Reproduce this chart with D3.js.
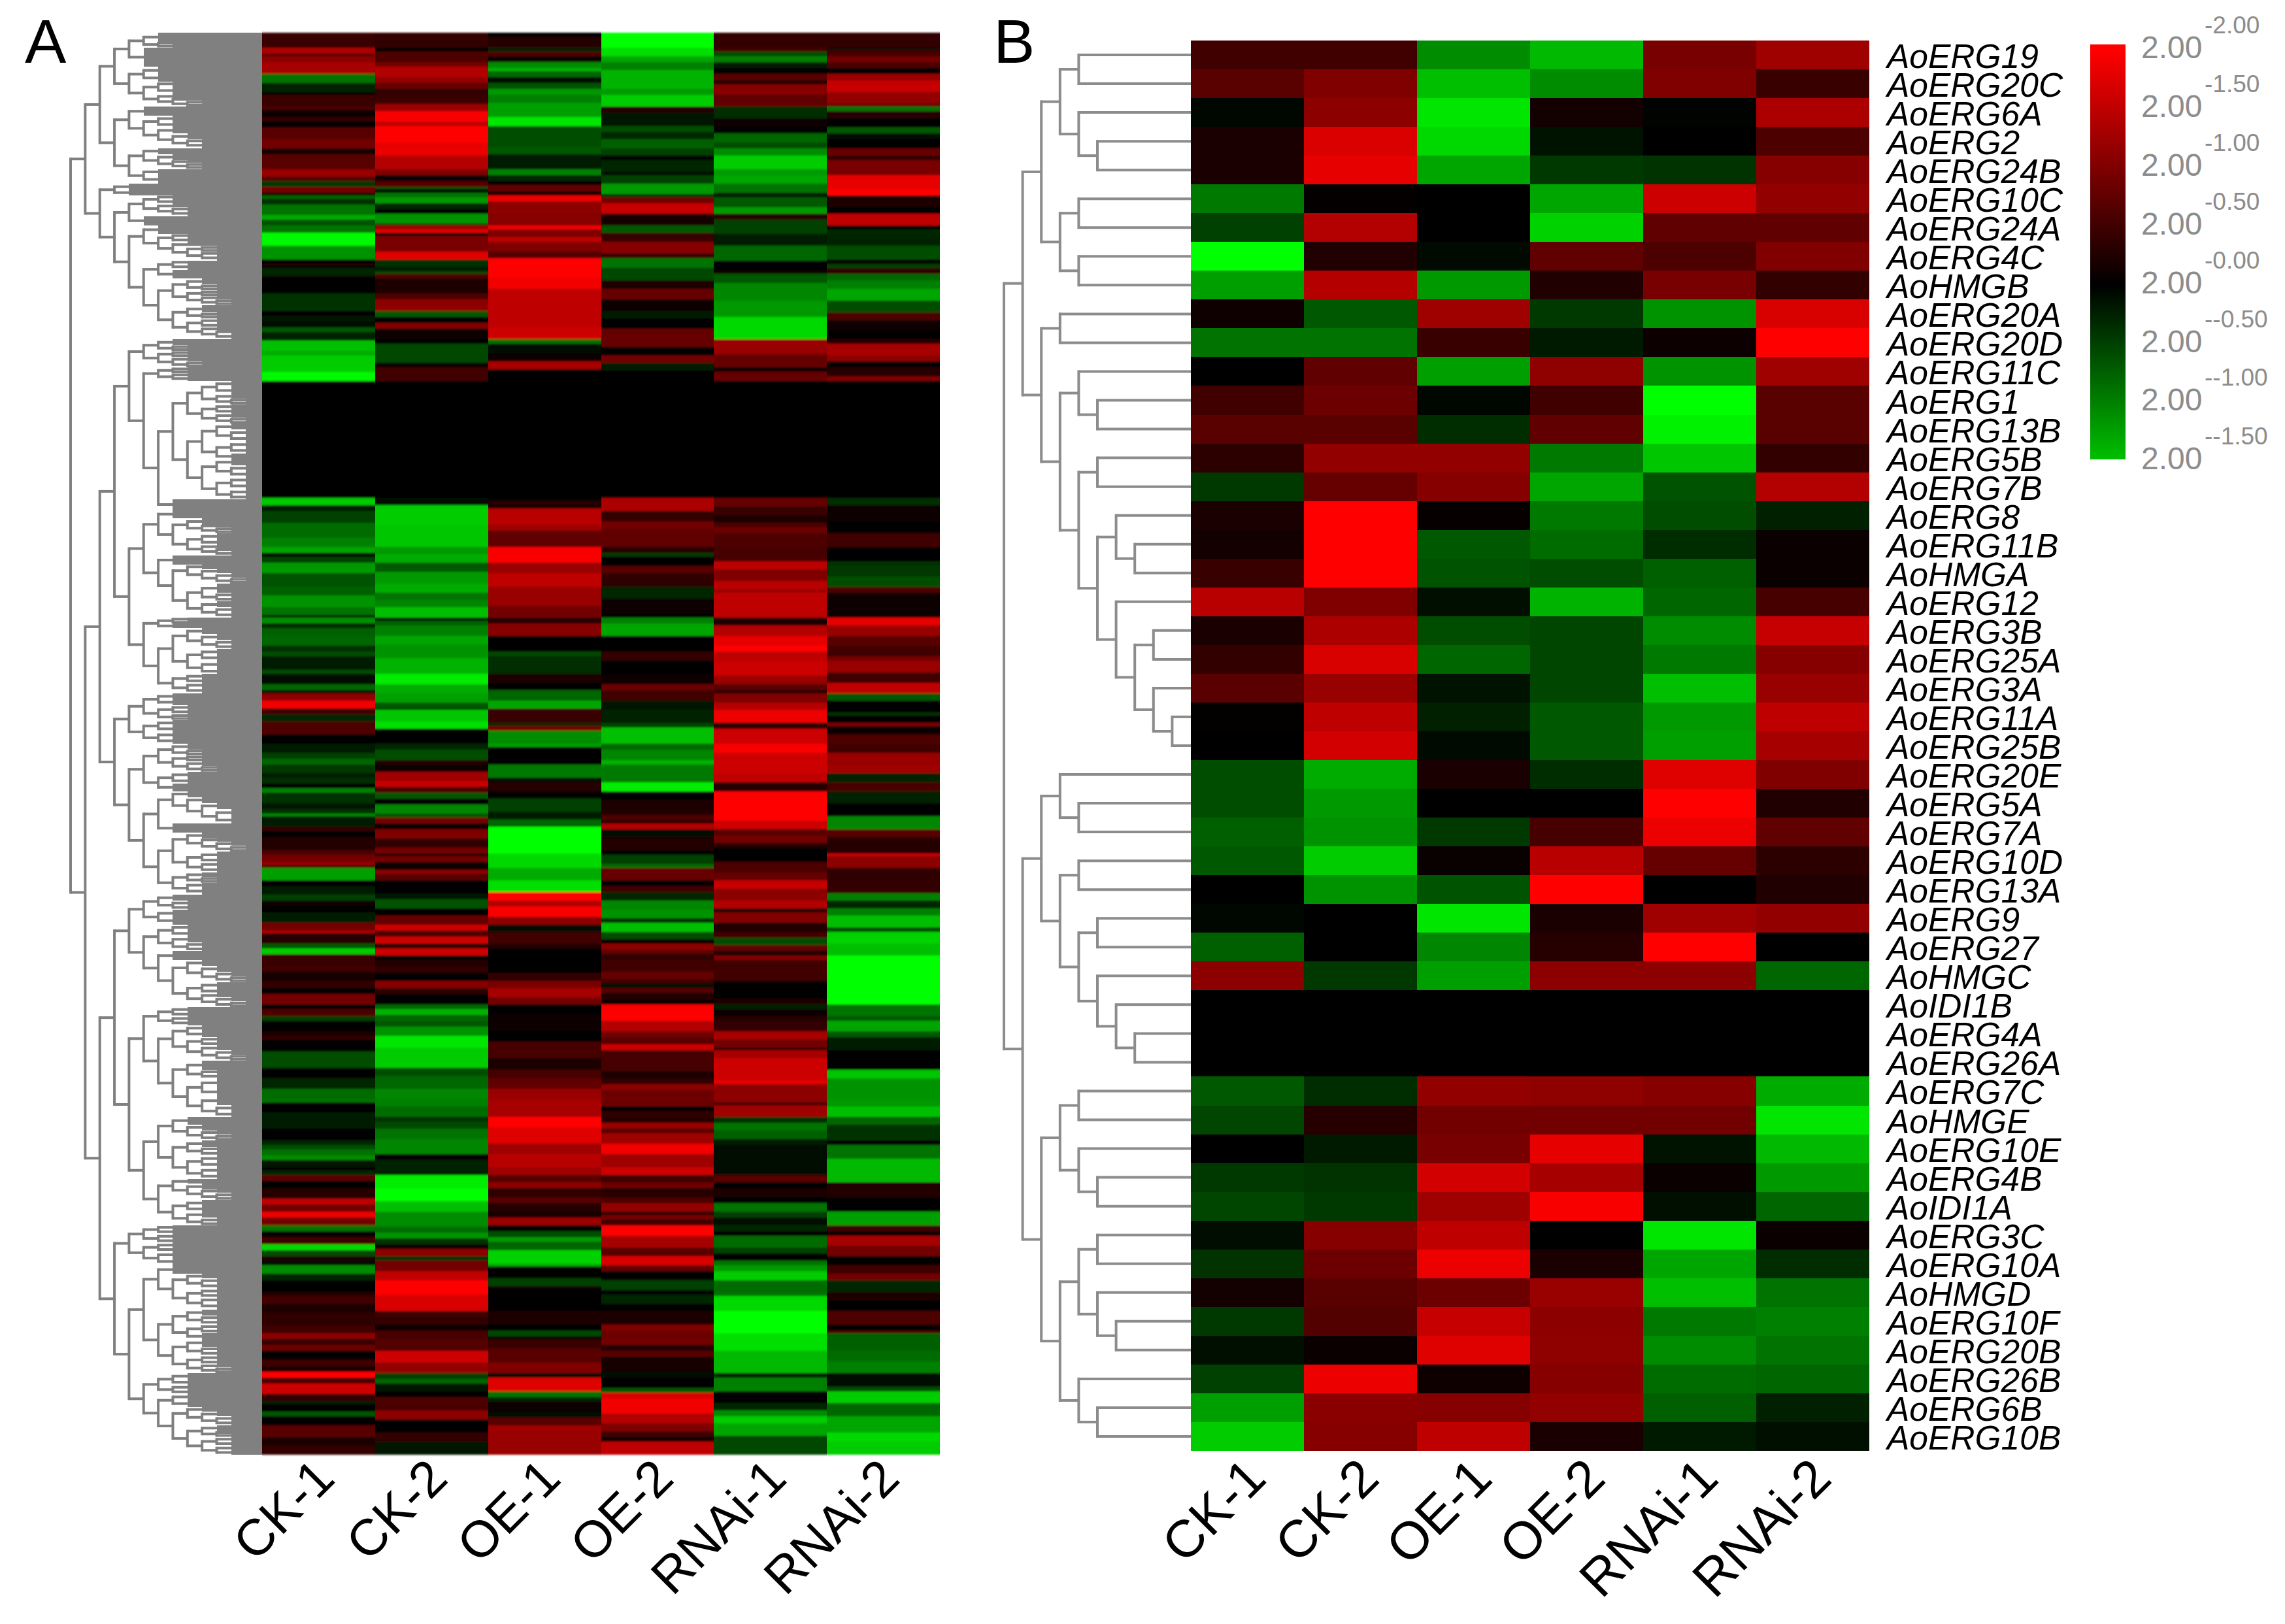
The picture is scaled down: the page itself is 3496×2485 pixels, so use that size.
<!DOCTYPE html>
<html>
<head>
<meta charset="utf-8">
<script src="https://cdn.jsdelivr.net/npm/d3@7"></script>
<style>
  html, body { margin: 0; padding: 0; background: #fff; }
  svg { display: block; font-family: "Liberation Sans", Arial, sans-serif; }
</style>
</head>
<body>
<div id="plot"></div>
<script>
const samples = ["CK-1", "CK-2", "OE-1", "OE-2", "RNAi-1", "RNAi-2"];

const genes = ["AoERG19", "AoERG20C", "AoERG6A", "AoERG2", "AoERG24B", "AoERG10C", "AoERG24A", "AoERG4C", "AoHMGB",
  "AoERG20A", "AoERG20D", "AoERG11C", "AoERG1", "AoERG13B", "AoERG5B", "AoERG7B", "AoERG8", "AoERG11B", "AoHMGA",
  "AoERG12", "AoERG3B", "AoERG25A", "AoERG3A", "AoERG11A", "AoERG25B", "AoERG20E", "AoERG5A", "AoERG7A", "AoERG10D",
  "AoERG13A", "AoERG9", "AoERG27", "AoHMGC", "AoIDI1B", "AoERG4A", "AoERG26A", "AoERG7C", "AoHMGE", "AoERG10E",
  "AoERG4B", "AoIDI1A", "AoERG3C", "AoERG10A", "AoHMGD", "AoERG10F", "AoERG20B", "AoERG26B", "AoERG6B", "AoERG10B"];

// panel B, one row per gene, same order as genes
const valuesB = [
  [.5,.5,-1.1,-1.45,.95,1.25], [.7,1,-1.5,-1.1,1,.45], [-.05,1.1,-1.8,.15,-.02,1.35], [.2,1.72,-1.7,-.15,0,.6],
  [.2,1.8,-1.3,-.45,-.4,1.05], [-.95,.03,0,-1.3,1.6,1.15], [-.5,1.4,0,-1.65,.75,.75], [-2,.25,-.08,.75,.6,1],
  [-1.25,1.42,-1.2,.25,.95,.4], [.12,-.7,1.25,-.45,-1.15,1.7], [-.9,-.9,.45,-.2,.1,2], [0,.75,-1.25,1.12,-1.15,1.25],
  [.5,.85,-.05,.5,-2,.7], [.7,.7,-.35,.75,-1.9,.7], [.35,1.15,1.15,-.95,-1.55,.4], [-.45,.8,1.05,-1.3,-.65,1.4],
  [.2,2,.05,-.95,-.6,-.25], [.15,2,-.7,-.85,-.35,.08], [.45,2,-.65,-.6,-.75,.08], [1.45,1,-.12,-1.4,-.8,.55],
  [.2,1.35,-.6,-.55,-1.1,1.55], [.4,1.7,-.8,-.55,-.95,1.05], [.7,1.2,-.15,-.55,-1.5,1.2], [.02,1.5,-.25,-.7,-1.2,1.5],
  [0,1.65,-.08,-.7,-1.25,1.3], [-.6,-1.35,.2,-.35,1.75,1], [-.6,-1.2,0,0,2,.25], [-.75,-1.15,-.45,.55,1.85,.75],
  [-.7,-1.6,.07,1.45,.8,.35], [0,-1.15,-.65,2,0,.25], [-.05,0,-1.8,.2,1.25,1.15], [-.75,0,-1.05,.3,2,0],
  [1.1,-.45,-1.25,1.1,1.1,-.8], [0,0,0,0,0,0], [0,0,0,0,0,0], [0,0,0,0,0,0],
  [-.7,-.35,1.15,1.12,1.05,-1.35], [-.55,.3,.9,.9,.9,-1.8], [0,-.2,.95,1.8,-.15,-1.45], [-.45,-.4,1.65,1.3,.08,-1.2],
  [-.55,-.45,1.25,1.95,-.12,-.8], [-.1,1.05,1.5,0,-1.8,.08], [-.4,.85,1.85,.2,-1.3,-.35], [.15,.7,.85,1.2,-1.5,-.9],
  [-.45,.65,1.55,1.1,-.95,-1], [-.12,.08,1.75,1.12,-1.1,-.9], [-.5,1.85,.12,1.05,-.85,-.8], [-1.25,1.08,1.05,1.15,-.75,-.25],
  [-1.6,1.05,1.5,.2,-.2,-.12]
];

// panel A has too many genes to list one by one, so each column is a list of [last row, value] runs
const runsCK1 = [[5,.45],[7,1.35],[8,.7],[10,1.1],[14,1.3],[17,-.9],[20,-.25],[21,0],[25,.45],[26,.6],[28.5,.12],[30,.4],[32,0],[36,.7],[39,.9],[41,.15],[46,.7],[48.5,1.2],[50,.7],[52,-.45],[54,.9],[55,.05],[56,-.8],[58,-.4],[61.5,-.9],[63,-1.35],[65,-.65],[67.5,-.9],[72,-1.95],[76.5,-1.15],[78,0],[78.5,.4],[79.5,.05],[82,-.3],[83,.1],[88,.02],[94,-.4],[95.5,0],[97.5,-.15],[99.5,-.1],[101,-.7],[104,-.25],[107.5,-1.5],[109,-1.35],[114.5,-1.6],[117.5,-1.95],[157,0],
  [159.5,-1.6],[161.5,-.2],[165.5,-.5],[170.5,-.85],[173.5,-1],[175.5,-1.3],[177,0],[179,-.5],[182.5,-1.2],[187,-.65],[190,-.75],[194,-1.15],[196.5,-.9],[197.5,-.3],[199.5,-1.1],[201,-.3],[203.5,-.75],[207,-.8],[209,-.35],[210.5,-.6],[215,-.2],[216.5,-.6],[220,-.1],[222,-.8],[223,-.1],[225.5,1.1],[228,1.9],[230,.5],[232.5,-.3],[237,.6],[240,0],
  [243,-.2],[245,-.5],[247,-.8],[250,-.45],[251.5,-.2],[253.5,-.35],[255,0],[256.5,-1],[260,-.4],[262,-.15],[263.5,-.4],[264.5,-1.1],[266,-.2],[268,-.2],[269.5,.4],[271.5,.05],[276,.25],[277.5,.6],[280,.9],[281,1.2],[282,.5],[286,-1.25],[288,.05],[291,-.2],[293,-.5],[295,.1],[297,0],[300.5,-.2],[303,.9],[304,1.4],[307.5,.3],[309,-.7],[311,-1.6],[315,.45],[317,.5],[320,.15],[322.5,.4],[324.5,.05],[328,.9],[329.5,.05],[332,.6],[333.5,-.5],[337,.05],[338.5,.2],[340,.4],[344,-.05],[349.5,-.6],[353,0],[356.5,-.3],[360,-.85],
  [361,-.9],[364.5,-.03],[366,-.2],[370,-.2],[374,0],[375.5,-.3],[377,-.6],[379,-.9],[380.5,-1.1],[383,-.15],[384,0],[385.5,-.3],[387.5,.7],[390,.05],[393.5,.3],[395.5,1.5],[398,.9],[400,1.85],[402.5,.9],[404.5,-.9],[406.5,-.05],[409,.5],[411,-1.7],[413,-.6],[414.5,.2],[416,-.1],[419,-1.1],[421,-.3],[425,0],[426.5,.3],[429,.5],[432,.2],[436.5,.35],[439,.5],[441,1.1],[443,.45],[445,.85],[447,-.05],[448,.12],[450,.5],[452,.2],[454,2],[456,.6],[459.5,1.6],[462,.4],[463,-.2],[465.5,0],[467,-.7],[470,.05],[474,.7],[477,.2],[480,.4]];

const runsCK2 = [[5,.4],[6.5,.05],[10,.6],[11.5,.9],[15,1.4],[17,1.15],[19,.8],[21,.4],[24,.45],[26.5,1.2],[30,1.95],[31.5,1.5],[37,2],[39,1.8],[41.5,1.85],[46,1.4],[48,1],[50,.1],[52,.65],[53,-.6],[54,.05],[55.5,-.9],[57.5,-1.2],[59.5,-.3],[61,0],[64.5,-1.15],[65,-.4],[66.5,1.2],[67.5,1.8],[68.5,.3],[74,.95],[76.5,1.75],[79,-.4],[80.5,-.2],[81.5,-.55],[83,.6],[88,.2],[90,.6],[94,1.1],[96,-.7],[98,0],[100,1],[103.5,.1],[105,0],[111.5,-.55],[113,.1],[117.5,.5],[157,0],
  [159.5,-.1],[160.5,-1.6],[166,-1.6],[173.5,-1.55],[176,-1.2],[179,-1.35],[182,-.7],[186,-1.2],[189,-1.35],[191.5,-.9],[194,-1.05],[197.5,-1.5],[198.5,0],[200,-.75],[203.5,-1],[206.5,-1.3],[211,-1.15],[216.5,-1.4],[220,-1.85],[223,-1.35],[226,-1.25],[228,-.7],[228.5,-.05],[232.5,-1.55],[235,-1.75],[240,-.03],
  [242,-.3],[245.5,-.6],[247,.25],[249.5,.1],[252.5,1.25],[254.5,1.55],[256.5,.6],[258.5,-.7],[260.5,-.05],[263.5,-1.05],[265,-.65],[267,.9],[269,.08],[272,1],[275,.4],[277,.9],[278,.3],[280,.9],[282.5,.1],[284,1.1],[286,.7],[288,0],[290.5,-.03],[292.5,-.15],[295.5,-.65],[298,-.05],[301,.8],[303,1.6],[305,.6],[307.5,1.6],[309,.2],[311.5,1.6],[313,-.05],[315.5,.25],[317.5,.4],[320,-.03],[322.5,1.05],[324.5,.35],[328,.05],[329.5,-.8],[331.5,-1.4],[333.5,-.8],[335.5,-.7],[338.5,-1.15],[342.5,-1.8],[349.5,-1.6],[352,-.6],[356.5,-.8],[360,-1.05],
  [362.5,-1],[366,-.85],[367.5,-.4],[370,-.55],[373.5,-.9],[378.5,-1.05],[380.5,-.03],[383,-.25],[385.5,-.25],[390,-1.85],[394.5,-2],[398,-1.5],[403,-1.1],[405,-.85],[407,-1.15],[409,-.4],[410.5,.1],[413,1.1],[414.5,-.4],[418,.9],[421,1.5],[426,2],[431.5,1.7],[433.5,.5],[436,.4],[438,.1],[441,.55],[445,.65],[449,1.6],[452.5,1.15],[454.5,-.5],[456,-.8],[458.5,-.15],[460.5,.05],[463,.6],[465,.55],[468,1.1],[472.5,0],[475.5,.4],[480,-.15]];

const runsOE1 = [[1.5,0],[5,.3],[6.5,-.25],[8,.6],[10,.1],[12,-1.1],[13,-1.4],[15,-.8],[17,-.1],[19,-.65],[21,-1.2],[23.5,-1],[28.5,-1.25],[31.5,-1.8],[38.5,-.6],[41,-.7],[46,-.2],[48,-1],[50,-.3],[51.5,0],[53.5,.75],[55,.08],[57,1.85],[61,1.1],[65,1.05],[66.5,1.9],[69,1],[70.5,1.5],[74,1],[76,.65],[82.5,2],[86.5,1.9],[99.5,1.5],[103.5,1.6],[105,-.9],[108,-.1],[111,.1],[113.5,1.3],[117.5,.05],[158,0],
  [159.5,.3],[160.5,.1],[166,1.45],[168,1.25],[173.5,.75],[179,1.95],[182.5,1.2],[187,1.5],[193.5,1.2],[197.5,.9],[199.5,.3],[203.5,1.05],[209,0],[210.5,-.55],[216.5,-.35],[219.5,.2],[222,0],[225.5,-.8],[228,-1.3],[233,.45],[234,-.3],[235.5,.9],[240,-1.1],
  [241,-1.25],[245.5,0],[247,-.05],[251.5,-.95],[253,-.1],[256,.3],[258.5,-.05],[263,-.5],[265.5,-.2],[268,-.8],[277,-2],[282,-1.7],[286,-1.35],[290,-1.75],[293,2],[295,1.4],[298.5,1.95],[301,1.1],[303.5,-.1],[307.5,.5],[309,.3],[315,.05],[317.5,0],[320,.4],[322.5,.95],[325.5,1.3],[328,.9],[331,.05],[337,.12],[340.5,.02],[346,.55],[350,.2],[353,.55],[356.5,.75],[360,1.2],
  [366,1.3],[369.5,2],[375,1.75],[378.5,1.25],[383,1.45],[385.5,1.25],[388,.7],[390,1.1],[393,.35],[395,.7],[398,.3],[400,.15],[402.5,1.2],[404.5,-.05],[406.5,-.6],[408,-1.2],[411,-.8],[415.5,-1.65],[416.5,-1.3],[420.5,-.05],[423,-.5],[424.5,.1],[427.5,-.02],[431.5,.02],[436,.2],[438,.05],[440,-.55],[441,0],[444,.45],[449,.7],[452.5,1],[454,-.1],[458.5,1.75],[460.5,-.9],[462,-.3],[465.5,.08],[467.5,-.1],[470,.7],[472,1.25],[480,1.2]];

const runsOE2 = [[5,-2],[8,-1.75],[10,-1.3],[12.5,-1],[15,-1.4],[19,-1.4],[21,-1.2],[25,-1.6],[27,.3],[31.5,-.15],[33.5,-.6],[36,-.3],[39,-.75],[41.5,-.5],[43,0],[47,-.3],[48,0],[51,-.5],[54.5,-1.2],[55.5,-.4],[57.5,.9],[61,1.55],[65,.15],[67.5,-.7],[70.5,.45],[74.5,1.05],[76,.4],[79.5,-.9],[83.5,-.55],[86.5,.2],[90,.8],[94,.1],[96.5,-.2],[100,.03],[106,.8],[109,-.05],[111.5,.9],[114,-.2],[117.5,-.05],[157,0],
  [161.5,1.35],[165,.4],[167.5,.9],[173.5,.75],[175.5,.3],[177,-.45],[180,0],[182.5,.7],[187,.35],[191,-.3],[196,.12],[197.5,.05],[199.5,-1],[203.5,-1.3],[209,0],[212,.4],[216.5,.02],[220,.1],[222,.85],[225.5,.5],[228.5,-.15],[233,-.25],[234.5,-.5],[240,-1.5],
  [242,-.8],[245.5,-1.05],[247,-1.4],[253,-.95],[256,-1.85],[259,.05],[262,.2],[264,.25],[266,.6],[267,.05],[269,1.4],[271.5,-.1],[276,.25],[277.5,.02],[280.5,-.5],[282,-.85],[286,.8],[288,0],[290,.5],[293,-.3],[296,-1.05],[299,-1.15],[300.5,-.4],[303.5,-1.5],[306,-.6],[307.5,.1],[309.5,1.1],[311,.75],[313,.35],[317,.5],[319.5,.8],[321,.5],[322.5,-.1],[324,.7],[326.5,.25],[328,.03],[330.5,1.95],[333.5,2],[337,1.4],[339,.9],[341.5,.7],[343.5,1.6],[350.5,.55],[353,.2],[355,.4],[357,1.1],[360,.85],
  [362.5,.85],[364,.05],[366,.35],[368,.3],[370,1.2],[371.5,.7],[375,1.25],[378.5,1.9],[380.5,1.25],[383,1.25],[385.5,1.6],[388,.5],[390,.85],[393,.3],[395,.6],[398,1.15],[399,.3],[400.5,.9],[402.5,.5],[406,2],[410,1.3],[413,.7],[416,1.7],[418,.8],[421,-.05],[424.5,-.5],[426,0],[429,-.3],[431.5,.02],[436,.2],[438,1],[441,.85],[443,.9],[445,.3],[447,.7],[452,.15],[454,-.1],[457.5,-.02],[459,-.7],[461,1.7],[466,1.9],[469.5,1.4],[472,1],[474,.5],[475.5,.1],[480,1.5]];

const runsRNAi1 = [[5,.4],[6.5,.5],[8,-.6],[10,-1],[12,-.2],[14,0],[16,.7],[17.5,.25],[21,1.05],[25,.75],[29,-.35],[32,.1],[34,-.05],[37,-.8],[39,-.6],[41.5,-1.1],[46,-1.6],[48,-1.2],[51,-1.3],[54,-.9],[55.5,-.2],[59,-.7],[61,-1.2],[63,.3],[65,-.5],[68,-.5],[72,-.2],[77,-.8],[80,0],[81.5,.1],[84.5,-.7],[90.5,-1.05],[96,-1.2],[103.5,-1.7],[108.5,1.2],[113,.8],[114.5,.1],[117.5,.8],[157,0],
  [160,.8],[163,.45],[165.5,.2],[167,.6],[169,.85],[173.5,.6],[178.5,.55],[181,1.5],[185,1],[188,1.45],[189,1.2],[197.5,1.5],[200,.2],[203.5,1.4],[207,1.8],[209,2],[212.5,1.5],[217,1.6],[220,1.2],[222,.7],[223,.3],[226,1],[228.5,1.4],[233,1.85],[235,.3],[240,1.6],
  [243,1.95],[250,1.6],[253,1.5],[256,.3],[266,2],[269,1.6],[271,.7],[273.5,.9],[275,.3],[280,.03],[283.5,.6],[286,.8],[289,1.55],[293,1.1],[295.5,1.4],[297,.3],[300.5,1],[303.5,.25],[305.5,.5],[308,-.6],[310,.75],[311.5,.2],[313,1],[320,.5],[323.5,-.05],[326,.03],[328,.2],[329.5,-.25],[332,.1],[333.5,.3],[337,.4],[340,1.3],[342.5,.9],[343.5,.4],[346,1.3],[353.5,1.6],[355,1.8],[360,1.1],
  [361,1.1],[362,.25],[366,1.25],[368,-.4],[370.5,-.9],[373.5,-.75],[375.5,-.2],[385.5,-.1],[388,.7],[390,.02],[393,.2],[395,0],[398,-.9],[400,-.5],[402.5,-.1],[404.5,-.3],[406,0],[410,-.85],[412,-.5],[414.5,0],[416,-.9],[418,-1.2],[421,-1.6],[425,-.85],[426.5,-.9],[431.5,-1.7],[439,-2],[445,-1.75],[452.5,-1.45],[454,-.2],[458.5,-1],[462.5,-.05],[465,-.3],[467,-1.1],[469.5,-1.6],[473.5,-1.3],[480,-.55]];

const runsRNAi2 = [[5,.4],[6,-.1],[8,.55],[10,.9],[12,.6],[14,0],[16,1.2],[20,1.55],[24,1.15],[25,.7],[26.5,-.9],[29,.3],[32,.05],[34,-.7],[36,-.1],[39,-.03],[41.5,.8],[43,.4],[48,.95],[53,1.8],[55,2],[59,.2],[61,.03],[65,1.5],[66.5,0],[69,-.3],[72,-.25],[76.5,-.6],[78,0],[79.5,-.5],[81.5,.35],[83.5,-.8],[86.5,-1],[90.5,-1.3],[94.5,-.6],[97,.6],[100.5,.1],[103.5,-.03],[105,.3],[109,1.3],[111,1.1],[113,0],[116,.3],[117.5,1],[157,0],
  [159.5,-.35],[165,.12],[169,.03],[173.5,.5],[178.5,0],[180,-.4],[183.5,-.45],[187,-.6],[189,.6],[197.5,.08],[200,1.8],[203.5,1.2],[207,.7],[210.5,.5],[212,.9],[216,1.2],[219.5,.5],[223,1.5],[225.5,-.7],[229.5,.03],[230.5,-.4],[233,0],[234,1],[237,.1],[240,.6],
  [243,.5],[247,1.2],[250,1.25],[253,-.25],[256,.55],[260,-.25],[264.5,.03],[269,-1.05],[271.5,.7],[277,.3],[278,1.6],[282,1.1],[286,.35],[290.5,.4],[293,-1],[295.5,-.3],[298,-1],[302,-1.5],[303.5,-.6],[307.5,-1.65],[311.5,-1.5],[328,-2],[332,-.9],[333.5,-.7],[337,-1.3],[339,-.7],[343.5,-.2],[350,-.02],[353,-1.55],[360,-1.15],
  [362.5,-1.2],[366,-1.5],[368.5,-.8],[374,-.4],[375.5,-.05],[380,-.9],[388,-1.45],[393,.25],[398,0],[402.5,-1.25],[404.5,.5],[406,.03],[409.5,1.3],[413,.9],[416,0],[419,.5],[421,.9],[425,-.3],[428,.2],[431.5,-.05],[436,.6],[438,.03],[439,.6],[445,-.75],[448.5,-.85],[452.5,-1],[457,-.1],[458.5,-.6],[462.5,-1.6],[467,-.8],[472.5,-1.3],[475.5,-1.7],[480,-1.6]];

const legendBase = "2.00";
const legendExponents = ["-2.00", "-1.50", "-1.00", "-0.50", "-0.00", "--0.50", "--1.00", "--1.50"];

// dendrograms: a number is a leaf and says how many rows it covers
const treeBupper = [
  [[[[1,1],[1,[1,1]]],[[1,1],[1,1]]],
   [[1,1],[[1,[1,1]],[[1,1],[[1,[1,1]],[1,[[1,1],[1,[1,1]]]]]]]]]
];
const treeBlower = [
  [[1,[1,1]],[[1,1],[[1,1],[1,[1,[1,1]]]]]],
  [[[1,1],[1,[1,1]]],[[[1,1],[1,[1,1]]],[1,[1,1]]]]
];
const treeB = [treeBupper[0], treeBlower];

const branchA1 = [[[3,[1,1]],6.5],[[2.5,2.5],[[1.5,3],[1,[1,[1,1]]]]]];
const branchA2 = [[3,[[2,2],[2,[2,[1,2]]]]],[[2,[2,[1,[1,1]]]],[2,3]]];
const branchB2a = [3,[[1,2],[1,[[1,1],[1,2]]]]];
const branchB2b = [[[1,2],3],[[[2,[1,1]],[[1,1],[1,[1,1]]]],[[2.5,[1,1]],[[1.5,1.5],[1,[1,2]]]]]];
const branchB = [[2,2],[[[[1,2],[1,[1,2]]],3],[branchB2a,branchB2b]]];

const blackTop = [[[2,2.5],[1.5,[1,1]]],[[1.5,1.5],[1.5,[1,1]]]];
const blackBottom = [[[2,[2,2]],[[2,2],2]],[[2,[2,2]],[[2,2],[2,1.5]]]];
const branchC1 = [[[2,[1,1]],[[1,1],[1.5,[1,1]]]],[[[1,1],[1,1.5]],[[blackTop,blackBottom],3.5]]];
const branchC2a = [[3,[[2,[1,[1,1]]],[[2,2],[1,[1,1.5]]]]],[3,[[1.5,[1.5,[1.5,[1,1]]]],[[3,[1.5,1.5]],[2,[1.5,2]]]]]];
const branchC2b = [[[1,1],1.5],[[[2,[2,[1.5,1.5]]],[[2,2],[2.5,2]]],[[1.5,1.5],[1.5,2]]]];
const branchD1 = [[[2,2],[[1.5,1.5],[1,1]]],[[2,2],[2,2]]];
const branchD2a = [[[2,[1,1]],[[1,1],[1.5,[1,1]]]],[[2,2],2.5]];
const branchD2b = [[[2,[2,[2,[2.5,2.5]]]],3],[[[2,[1,[1.5,[1,1]]]],[[2,1.5],[1.5,2]]],[[1.5,[1,1]],[1.5,2.5]]]];

const branchE1 = [[[2,[1.5,1.5]],[2.5,2.5]],[[[2,2],[2,[1.5,1.5]]],[3,[[2,[2,[1.5,[1,1]]]],[[2,2],[1,[1.5,[1,1]]]]]]]];
const branchE2a = [[[1.5,1.5],[1.5,1.5]],[[[2,2],[[1.5,1.5],[1.5,[1.5,[1,1]]]]],[[3,[1.5,1.5]],[[3,3],[3,[2,2]]]]]];
const branchE2b = [[[2.5,[2,[1.5,[1,1]]]],[[2,[1.5,1.5]],[[2,2],[2,2]]]],[[1.5,[2,[1,[1.5,1]]]],[[2,2],[2,[1.5,1]]]]];
const branchF1 = [[[1.5,1.5],[1.5,1.5]],[[1.5,1.5],[2,2.5]]];
const branchF2a = [[3,[[1.5,[1.5,2]],[[1.5,1.5],[1.5,2.5]]]],[[[2,[1.5,1.5]],[[1.5,1.5],2]],[[2.5,[1.5,1.5]],[[1.5,1.5],[1,[1,1]]]]]];
const branchF2b = [[[2,2],[1.5,1.5]],[[2,2.5],[[1.5,[1.5,[1.5,1.5]]],[[2,[1,1]],[[1.5,1.5],[1.5,1.5]]]]]];

const treeA = [
  [[branchA1, branchA2], branchB],
  [
    [[branchC1, [branchC2a, branchC2b]], [branchD1, [branchD2a, branchD2b]]],
    [[branchE1, [branchE2a, branchE2b]], [branchF1, [branchF2a, branchF2b]]]
  ]
];

const width = 3496, height = 2485;

const color = d3.scaleLinear()
  .domain([-2, 0, 2])
  .range(["#00ff00", "#000000", "#ff0000"])
  .clamp(true);

const svg = d3.select("div#plot")
  .append("svg")
  .attr("width", width)
  .attr("height", height);

// the reference is a soft scan, thin bands of panel A bleed into each other
svg.append("defs").append("filter")
  .attr("id", "soft")
  .attr("filterUnits", "userSpaceOnUse")
  .attr("x", 0).attr("y", 0)
  .attr("width", width).attr("height", height)
  .append("feGaussianBlur")
  .attr("stdDeviation", "0.5 1.6");

// walks the nested tree, every depth level moves right by the same step
function drawTree(tree, rowScale, rootX, step, edgeX, strokeW, stroke, fillLeaves) {
  const root = d3.hierarchy(tree, d => Array.isArray(d) ? d : null);
  let row = 0;
  root.eachAfter(function(n) {
    if (!n.children) {
      n.top = rowScale(row);
      row += n.data;
      n.bottom = rowScale(row);
      n.y = (n.top + n.bottom) / 2;
    } else {
      n.y = d3.mean(n.children, c => c.y);
    }
    n.x = rootX + n.depth * step;
  });

  const g = svg.append("g");
  g.selectAll("path")
    .data(root.descendants().filter(d => d.parent))
    .join("path")
    .attr("d", d => `M${d.parent.x},${d.y}H${d.children ? d.x : edgeX}`)
    .attr("fill", "none")
    .attr("stroke", stroke)
    .attr("stroke-width", strokeW);
  g.selectAll("line")
    .data(root.descendants().filter(d => d.children))
    .join("line")
    .attr("x1", d => d.x)
    .attr("x2", d => d.x)
    .attr("y1", d => d3.min(d.children, c => c.y) - strokeW / 2)
    .attr("y2", d => d3.max(d.children, c => c.y) + strokeW / 2)
    .attr("stroke", stroke)
    .attr("stroke-width", strokeW);
  if (fillLeaves) {
    g.selectAll("rect")
      .data(root.leaves())
      .join("rect")
      .attr("x", d => d.x)
      .attr("y", d => d.top)
      .attr("width", d => edgeX - d.x)
      .attr("height", d => d.bottom - d.top)
      .attr("fill", stroke)
      .attr("shape-rendering", "crispEdges");
  }
}

function drawSampleLabels(x, labelX, labelY, fontSize) {
  svg.append("g").selectAll("text")
    .data(samples)
    .join("text")
    .attr("transform", d => `translate(${x(d) + x.bandwidth() / 2 + labelX},${labelY}) rotate(-45)`)
    .attr("text-anchor", "end")
    .attr("font-size", fontSize)
    .attr("fill", "#000")
    .text(d => d);
}

// panel A
const xA = d3.scaleBand().domain(samples).range([401, 1438]);
const yA = d3.scaleLinear().domain([0, 480]).range([50, 2226]);
const columnsA = [runsCK1, runsCK2, runsOE1, runsOE2, runsRNAi1, runsRNAi2];

drawTree(treeA, yA, 108, 22.35, 401, 4, "#808080", true);

const cellsA = svg.append("g").attr("filter", "url(#soft)");
columnsA.forEach(function(runs, i) {
  cellsA.append("g").selectAll("rect")
    .data(runs)
    .join("rect")
    .attr("x", xA(samples[i]))
    .attr("width", xA.bandwidth())
    .attr("y", (d, j) => yA(j ? runs[j - 1][0] : 0))
    .attr("height", (d, j) => yA(d[0]) - yA(j ? runs[j - 1][0] : 0))
    .attr("fill", d => color(d[1]))
    .attr("shape-rendering", "crispEdges");
});
drawSampleLabels(xA, 28, 2266, 78);

// panel B
const xB = d3.scaleBand().domain(samples).range([1822, 2860]);
const yB = d3.scaleBand().domain(genes).range([62, 2220]);
const yBrow = d3.scaleLinear().domain([0, genes.length]).range([62, 2220]);

drawTree(treeB, yBrow, 1536, 28.6, 1822, 4, "#8c8c8c", false);

genes.forEach(function(gene, i) {
  svg.append("g").selectAll("rect")
    .data(valuesB[i])
    .join("rect")
    .attr("x", (d, j) => xB(samples[j]))
    .attr("y", yB(gene))
    .attr("width", xB.bandwidth())
    .attr("height", yB.bandwidth())
    .attr("fill", d => color(d))
    .attr("shape-rendering", "crispEdges");
});

svg.append("g").selectAll("text")
  .data(genes)
  .join("text")
  .attr("x", 2887)
  .attr("y", d => yB(d) + yB.bandwidth() / 2 + 20)
  .attr("font-size", 51.5)
  .attr("font-style", "italic")
  .attr("fill", "#000")
  .text(d => d);
drawSampleLabels(xB, 32, 2266, 80);

// legend, black sits at 436 and half a unit is 90px
const legendY = d3.scaleLinear().domain([0, 2]).range([436, 76]);
const gradient = svg.select("defs").append("linearGradient")
  .attr("id", "legendRamp")
  .attr("gradientUnits", "userSpaceOnUse")
  .attr("x1", 0).attr("x2", 0)
  .attr("y1", 68).attr("y2", 703);
gradient.selectAll("stop")
  .data([2, 0, -1.5])
  .join("stop")
  .attr("offset", d => (legendY(d) - 68) / (703 - 68))
  .attr("stop-color", d => color(d));

svg.append("rect")
  .attr("x", 3198)
  .attr("y", 68)
  .attr("width", 54)
  .attr("height", 635)
  .attr("fill", "url(#legendRamp)");

const legendLabels = svg.append("g").selectAll("g")
  .data(legendExponents)
  .join("g")
  .attr("transform", (d, i) => `translate(3276,${89 + i * 89.9})`);
legendLabels.append("text")
  .attr("font-size", 48)
  .attr("fill", "#8c8c8c")
  .text(legendBase);
legendLabels.append("text")
  .attr("x", 97)
  .attr("y", -38)
  .attr("font-size", 37)
  .attr("fill", "#8c8c8c")
  .text(d => d);

// panel letters
svg.append("text").attr("x", 38).attr("y", 96).attr("font-size", 95).text("A");
svg.append("text").attr("x", 1520).attr("y", 96).attr("font-size", 95).text("B");
</script>
</body>
</html>
